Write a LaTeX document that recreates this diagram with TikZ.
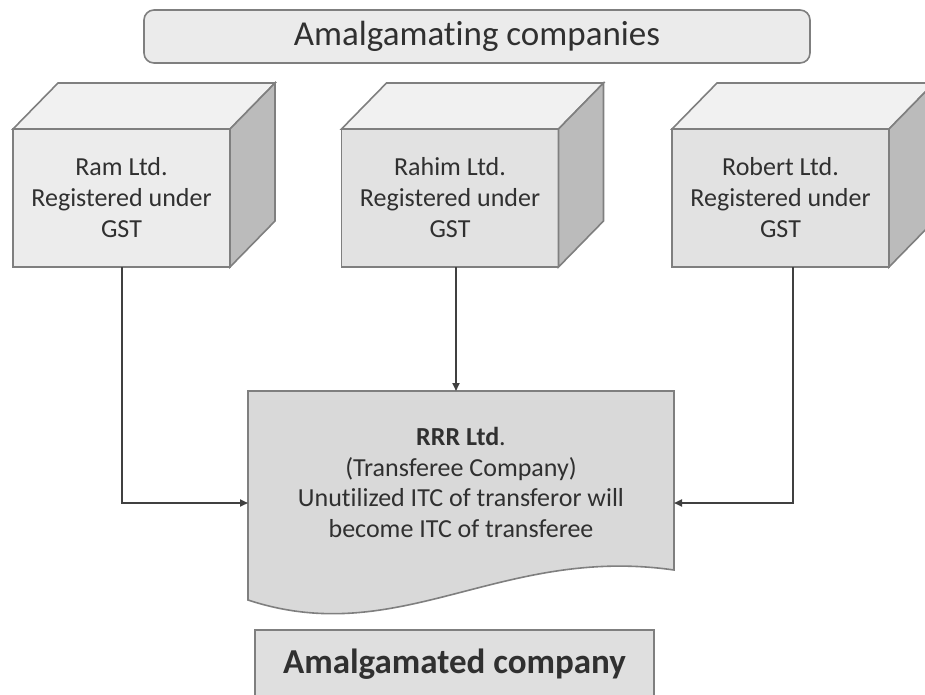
\documentclass[tikz,border=0pt]{standalone}
\usepackage{fontspec}
\setmainfont{Carlito}[Ligatures=NoCommon]
\usetikzlibrary{arrows.meta}
\definecolor{edge}{HTML}{7F7F7F}
\definecolor{txt}{HTML}{303030}
\definecolor{conncol}{HTML}{404040}
\definecolor{headfill}{HTML}{EBEBEB}
\definecolor{topface}{HTML}{F1F1F1}
\definecolor{sideface}{HTML}{BBBBBB}
\definecolor{frontA}{HTML}{ECECEC}
\definecolor{frontB}{HTML}{E2E2E2}
\definecolor{rrrfill}{HTML}{D9D9D9}
\definecolor{amalfill}{HTML}{DFDFDF}
\tikzset{
  facebox/.style={draw=edge, line width=1.6pt, line join=miter},
  frontbox/.style={facebox, rectangle, minimum width=217pt, minimum height=138pt,
    inner sep=0pt, outer sep=0pt, align=center, text=txt,
    font=\fontsize{26}{31}\selectfont},
  conn/.style={draw=conncol, line width=1.8pt, -{Triangle[length=8pt,width=7pt]}},
}
\begin{document}
\begin{tikzpicture}[x=1pt,y=-1pt]
\useasboundingbox (0,0) rectangle (925,694);
\clip (0,0) rectangle (925,694);
% heading
\node[facebox, fill=headfill, rounded corners=10pt, minimum width=666pt, minimum height=53pt,
  inner sep=0pt, text=txt, font=\fontsize{35}{40}\selectfont] (head) at (477,36.5) {Amalgamating companies};
% 3D boxes
\foreach \nm/\cx/\fc/\lbl in {ram/121.5/frontA/{Ram Ltd.\\Registered under\\GST},
                              rahim/450/frontB/{Rahim Ltd.\\Registered under\\GST},
                              robert/780.5/frontB/{Robert Ltd.\\Registered under\\GST}}{
  \node[frontbox, fill=\fc] (\nm) at (\cx,198) {\lbl};
  \filldraw[facebox, fill=topface] (\nm.north west) -- ++(45,-46) -- ++(217,0) -- (\nm.north east) -- cycle;
  \filldraw[facebox, fill=sideface] (\nm.north east) -- ++(45,-46) -- ++(0,138) -- (\nm.south east) -- cycle;
}
% RRR document shape
\filldraw[facebox, fill=rrrfill] (248,391) -- (674,391) -- (674,570)
  .. controls (500,545) and (400,650) .. (248,600) -- cycle;
\node[align=center, text=txt, font=\fontsize{26}{30.5}\selectfont] (rrr) at (461,482.5)
  {\textbf{RRR Ltd}.\\(Transferee Company)\\Unutilized ITC of transferor will\\become ITC of transferee};
\coordinate (rrrL) at (248,503);
\coordinate (rrrR) at (674,503);
\coordinate (rrrT) at (456,391);
% amalgamated company
\node[facebox, fill=amalfill, minimum width=399pt, minimum height=68pt, inner sep=0pt,
  text=txt, font=\fontsize{35}{40}\bfseries\selectfont] (amal) at (454.5,664) {Amalgamated company};
% connectors
\draw[conn] ([xshift=0.5pt]ram.south) |- (rrrL);
\draw[conn] ([xshift=6pt]rahim.south) -- (rrrT);
\draw[conn] ([xshift=12.5pt]robert.south) |- (rrrR);
\end{tikzpicture}
\end{document}
